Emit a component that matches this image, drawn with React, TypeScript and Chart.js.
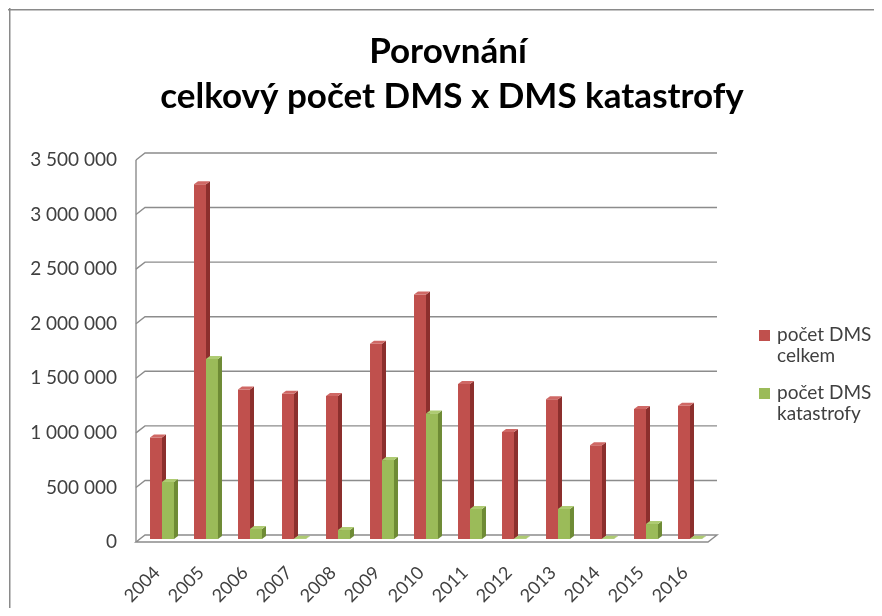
import React, { useEffect, useRef } from "react";
import { Chart, registerables } from "chart.js";

Chart.register(...registerables);

const years = ["2004", "2005", "2006", "2007", "2008", "2009", "2010", "2011", "2012", "2013", "2014", "2015", "2016"];
const totalDMS = [930000, 3250000, 1370000, 1330000, 1310000, 1790000, 2240000, 1420000, 980000, 1280000, 860000, 1190000, 1220000];
const disasterDMS = [522000, 1650000, 92000, 3000, 82000, 723000, 1150000, 275000, 3000, 275000, 3000, 137000, 3000];
const seriesNames = [["počet DMS", "celkem"], ["počet DMS", "katastrofy"]];
const titleLines = ["Porovnání", "celkový počet DMS x DMS katastrofy"];
const yMin = 0;
const yMax = 3500000;
const yStep = 500000;

const FONT = "Lato, 'Open Sans', sans-serif";
const FRONT = ["#C0504D", "#9BBB59"];
const SIDE = ["#8C2F2D", "#6E8B35"];
const TOP = ["#CF6865", "#AECB72"];

const W = 874;
const H = 600;

const fmt = (v: number) => String(v).replace(/\B(?=(\d{3})+(?!\d))/g, " ");

const threeD = {
  id: "threeD",
  beforeDraw(chart: any) {
    const { ctx, width, height } = chart;
    ctx.save();
    ctx.fillStyle = "#ffffff";
    ctx.fillRect(0, 0, width, height);
    ctx.fillStyle = "#8a8a8a";
    ctx.fillRect(0, 1, width, 1.5);
    ctx.fillRect(1, 0, 1.5, height);
    ctx.restore();
  },
  beforeDatasetsDraw(chart: any) {
    const { ctx, chartArea: a, scales } = chart;
    const y = scales.y;
    const BX = 5, BY = 4, FX = -4, FY = 3;
    ctx.save();
    ctx.strokeStyle = "#8c8c8c";
    ctx.lineWidth = 1.4;
    y.ticks.forEach((t: any) => {
      const py = y.getPixelForValue(t.value);
      if (t.value === 0) return;
      ctx.beginPath();
      ctx.moveTo(a.left + FX, py + FY);
      ctx.lineTo(a.left + BX, py - BY);
      ctx.lineTo(a.right + BX, py - BY);
      ctx.stroke();
    });
    ctx.beginPath();
    ctx.moveTo(a.left + FX, a.top + FY);
    ctx.lineTo(a.left + FX, a.bottom + FY);
    ctx.stroke();
    // floor
    ctx.beginPath();
    ctx.moveTo(a.left + FX, a.bottom + FY);
    ctx.lineTo(a.right + FX, a.bottom + FY);
    ctx.lineTo(a.right + BX, a.bottom - BY);
    ctx.lineTo(a.left + BX, a.bottom - BY);
    ctx.closePath();
    ctx.fillStyle = "#ffffff";
    ctx.fill();
    ctx.stroke();
    ctx.restore();
  },
  afterDatasetsDraw(chart: any) {
    const { ctx } = chart;
    const dx = 4, dy = 3;
    ctx.save();
    [0, 1].forEach((i) => {
      const meta = chart.getDatasetMeta(i);
      meta.data.forEach((el: any) => {
        const { x, y, base, width } = el.getProps(["x", "y", "base", "width"], true);
        if (i === 1) el.draw(ctx);
        const l = x - width / 2;
        const r = x + width / 2;
        ctx.fillStyle = SIDE[i];
        ctx.beginPath();
        ctx.moveTo(r, y);
        ctx.lineTo(r + dx, y - dy);
        ctx.lineTo(r + dx, base - dy);
        ctx.lineTo(r, base);
        ctx.closePath();
        ctx.fill();
        ctx.fillStyle = TOP[i];
        ctx.beginPath();
        ctx.moveTo(l, y);
        ctx.lineTo(l + dx, y - dy);
        ctx.lineTo(r + dx, y - dy);
        ctx.lineTo(r, y);
        ctx.closePath();
        ctx.fill();
      });
    });
    ctx.restore();
  },
  afterDraw(chart: any) {
    const { ctx } = chart;
    ctx.save();
    // title
    ctx.fillStyle = "#000000";
    ctx.textAlign = "center";
    ctx.textBaseline = "alphabetic";
    ctx.font = `bold 35px ${FONT}`;
    ctx.fillText(titleLines[0], 440, 55);
    ctx.fillText(titleLines[1], 444, 100);
    // legend
    const groups = [327, 385];
    ctx.textAlign = "left";
    ctx.textBaseline = "middle";
    ctx.font = `19px ${FONT}`;
    seriesNames.forEach((lines, i) => {
      const cy = groups[i];
      ctx.fillStyle = FRONT[i];
      ctx.fillRect(751, cy - 5, 11, 11);
      ctx.fillStyle = "#404040";
      lines.forEach((ln, j) => ctx.fillText(ln, 769, cy + j * 21));
    });
    ctx.restore();
  },
};

export default function App() {
  const ref = useRef<HTMLCanvasElement | null>(null);
  useEffect(() => {
    if (!ref.current) return;
    const chart = new Chart(ref.current, {
      type: "bar",
      data: {
        labels: years,
        datasets: [
          { label: seriesNames[0].join(" "), data: totalDMS, backgroundColor: FRONT[0], borderWidth: 0 },
          { label: seriesNames[1].join(" "), data: disasterDMS, backgroundColor: FRONT[1], borderWidth: 0 },
        ],
      },
      options: {
        responsive: false,
        animation: false,
        layout: { padding: { top: 149, right: 170, left: 0, bottom: 0 } },
        datasets: { bar: { categoryPercentage: 0.545, barPercentage: 1 } },
        plugins: { legend: { display: false }, title: { display: false }, tooltip: { enabled: false } },
        scales: {
          x: {
            grid: { display: false, drawTicks: false },
            border: { display: false },
            ticks: {
              autoSkip: false,
              maxRotation: 45,
              minRotation: 45,
              padding: 23,
              labelOffset: -5,
              color: "#404040",
              font: { family: FONT, size: 18 },
            },
            afterFit: (s: any) => { s.height = 69; },
          },
          y: {
            min: yMin,
            max: yMax,
            grid: { display: false, drawTicks: false },
            border: { display: false },
            ticks: {
              stepSize: yStep,
              padding: 23,
              labelOffset: 3,
              color: "#404040",
              font: { family: FONT, size: 19 },
              callback: (v: any) => fmt(Number(v)),
            },
            afterFit: (s: any) => { s.width = 132; },
          },
        },
      },
      plugins: [threeD],
    });
    return () => chart.destroy();
  }, []);
  return (
    <div style={{ width: W, height: H }}>
      <canvas ref={ref} width={W} height={H} style={{ display: "block" }} />
    </div>
  );
}
